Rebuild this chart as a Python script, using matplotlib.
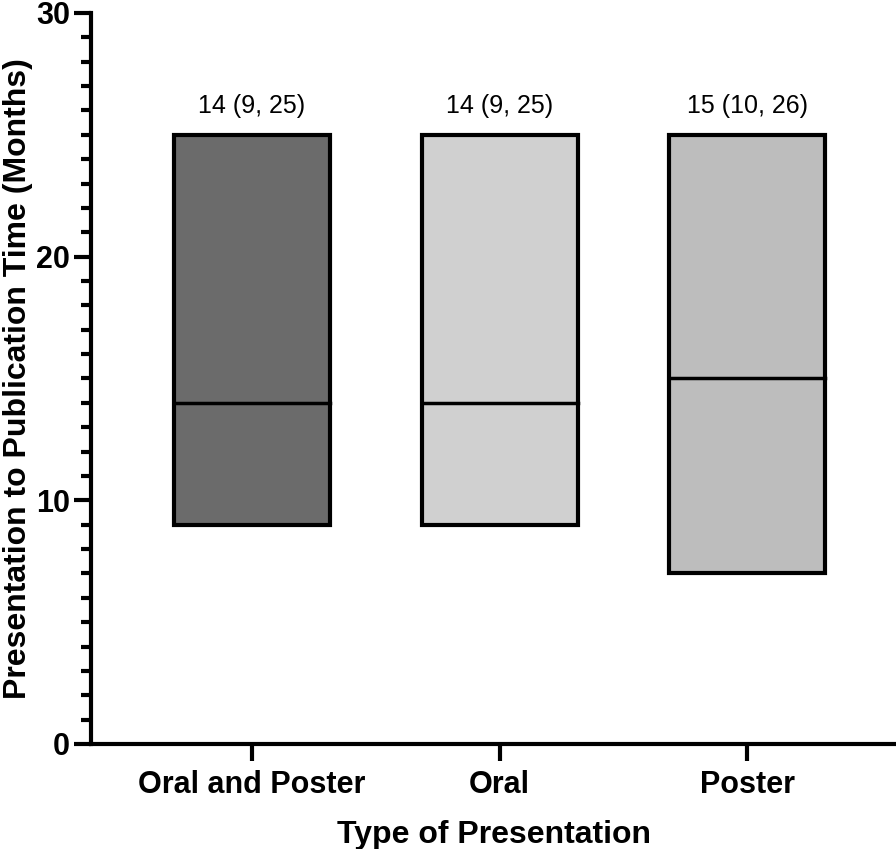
import matplotlib
matplotlib.use("Agg")
import matplotlib.pyplot as plt
from matplotlib.ticker import MultipleLocator

plt.rcParams['font.family'] = ['Liberation Sans', 'DejaVu Sans']

# data
groups = ["Oral and Poster", "Oral", "Poster"]
lows = [9, 9, 7]
highs = [25, 25, 25]
medians = [14, 14, 15]
labels = ["14 (9, 25)", "14 (9, 25)", "15 (10, 26)"]
colors = ["#6b6b6b", "#d0d0d0", "#bdbdbd"]

fig = plt.figure(figsize=(8.96, 8.49), dpi=100)
ax = fig.add_axes([0.1016, 0.1237, 0.8984, 0.861])

x = range(len(groups))
bar_w = 0.63
for i in x:
    ax.bar(i, highs[i] - lows[i], bottom=lows[i], width=bar_w,
           color=colors[i], edgecolor="black", linewidth=3, zorder=2)
    ax.plot([i - bar_w / 2, i + bar_w / 2], [medians[i], medians[i]],
            color="black", linewidth=2.5, zorder=3)
    ax.text(i, 26.2, labels[i], ha="center", va="center", fontsize=18)

ax.set_xlim(-0.65, 2.6)
ax.set_ylim(0, 30)
ax.set_xticks(list(x))
ax.set_xticklabels(groups, fontsize=22, fontweight="bold")
ax.yaxis.set_major_locator(MultipleLocator(10))
ax.yaxis.set_minor_locator(MultipleLocator(1))
ax.tick_params(axis="y", which="major", length=12, width=3, labelsize=22, pad=3)
ax.tick_params(axis="y", which="minor", length=7, width=3)
ax.tick_params(axis="x", which="major", length=12, width=3, pad=7)
for lbl in ax.get_yticklabels():
    lbl.set_fontweight("bold")

for s in ["top", "right"]:
    ax.spines[s].set_visible(False)
for s in ["left", "bottom"]:
    ax.spines[s].set_linewidth(3)

ax.set_xlabel("Type of Presentation", fontsize=23, fontweight="bold", labelpad=14)
ax.set_ylabel("Presentation to Publication Time (Months)", fontsize=23,
              fontweight="bold", labelpad=2)

fig.savefig("out.png", dpi=100)
